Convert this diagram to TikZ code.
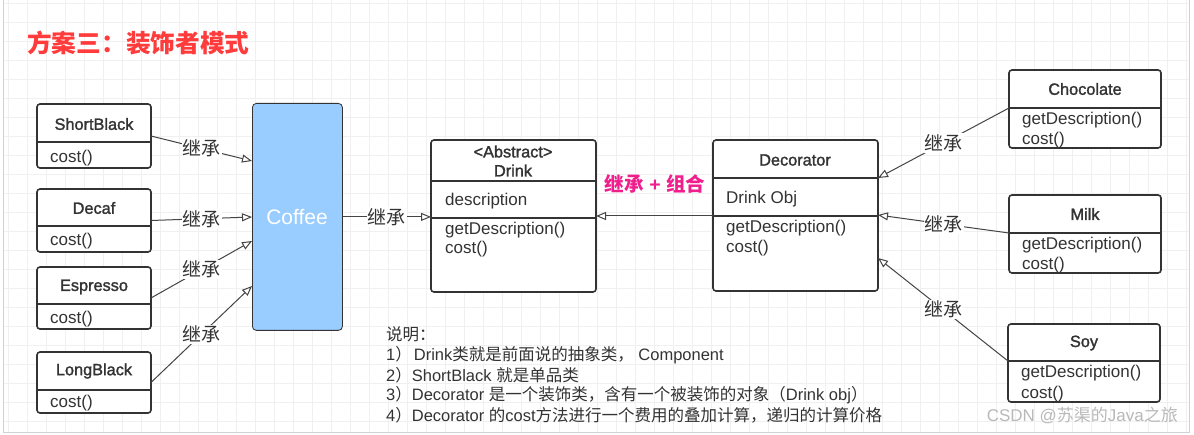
\documentclass[tikz,border=0pt]{standalone}
\usepackage{fontspec}
\setmainfont{Liberation Sans}
\newfontfamily\cjk{Noto Sans CJK SC}
\newfontfamily\medfont[FakeBold=1.6]{Liberation Sans}
\usetikzlibrary{arrows.meta,calc}
\definecolor{boxline}{HTML}{333333}
\definecolor{txt}{HTML}{333333}
\definecolor{arrowc}{HTML}{444444}
\definecolor{gridc}{HTML}{F0F0F0}
\definecolor{coffeeblue}{HTML}{99CCFF}
\definecolor{titlered}{HTML}{FF3B3B}
\definecolor{pinkc}{HTML}{F01E8C}
\tikzset{
  cls/.style={draw=boxline, line width=1.6pt, rounded corners=3pt, fill=white, inner sep=0pt, outer sep=0pt, anchor=north west},
  divline/.style={draw=boxline, line width=1.6pt},
  ttl/.style={font=\medfont\fontsize{16.3}{19}\selectfont, text=txt, inner sep=0pt, align=center},
  itm/.style={font=\fontsize{17}{20}\selectfont, anchor=west, inner sep=0pt, text=txt},
  inh/.style={draw=arrowc, line width=1pt, -{Triangle[fill=white, length=10pt, width=8pt]}},
  lbl/.style={fill=white, inner sep=1pt, font=\cjk\fontsize{19}{21}\selectfont, text=txt},
  note/.style={anchor=west, inner sep=0pt, text=txt, font=\fontsize{16.5}{19}\selectfont}
}
\begin{document}
\begin{tikzpicture}[x=1pt,y=-1pt]
\useasboundingbox (0,0) rectangle (1194,435);
% panel and grid
\fill[white] (0,0) rectangle (1194,435);
\begin{scope}
\clip (3,0) rectangle (1189,432);
\foreach \x in {8,27,...,1190} \draw[gridc, line width=0.8pt] (\x,0) -- (\x,432);
\foreach \y in {3,22,...,432} \draw[gridc, line width=0.8pt] (3,\y) -- (1189,\y);
\end{scope}
\draw[gray!35, line width=1pt] (3,0) -- (3,432) -- (1189,432) -- (1189,0);

% title
\node[anchor=west, text=titlered, font=\cjk\bfseries\fontsize{24.7}{27}\selectfont, inner sep=0pt] (title) at (27,43) {方案三：装饰者模式};

% left concrete classes
\node[cls, minimum width=114, minimum height=64] (sb) at (37,104) {};
\draw[divline] (37,142) -- (151,142);
\node[ttl] (sbt) at (94,124) {ShortBlack};
\node[itm] (sbc) at (50,158) {cost()};

\node[cls, minimum width=114, minimum height=63] (dc) at (37,189) {};
\draw[divline] (37,226) -- (151,226);
\node[ttl] (dct) at (94,208) {Decaf};
\node[itm] (dcc) at (50,241) {cost()};

\node[cls, minimum width=114, minimum height=62] (es) at (37,267) {};
\draw[divline] (37,304) -- (151,304);
\node[ttl] (est) at (94,287) {Espresso};
\node[itm] (esc) at (50,319) {cost()};

\node[cls, minimum width=114, minimum height=61] (lb) at (37,352) {};
\draw[divline] (37,390) -- (151,390);
\node[ttl] (lbt) at (94,371) {LongBlack};
\node[itm] (lbc) at (50,403) {cost()};

% Coffee
\node[draw=boxline, line width=0.8pt, fill=coffeeblue, rounded corners=4pt, minimum width=90, minimum height=227, anchor=north west, inner sep=0pt] (cf) at (252,103) {};
\node[text=white, font=\fontsize{21}{24}\selectfont, inner sep=0pt] (cft) at (297,217) {Coffee};

% Drink
\node[cls, minimum width=165, minimum height=152] (dr) at (431,140) {};
\draw[divline] (431,181) -- (596,181);
\draw[divline] (431,218) -- (596,218);
\node[ttl] (drt) at (513,161) {<Abstract>\\Drink};
\node[itm] (dra) at (445,201) {description};
\node[itm] (drm1) at (445,230) {getDescription()};
\node[itm] (drm2) at (445,249) {cost()};

% Decorator
\node[cls, minimum width=165, minimum height=151] (dec) at (713,140) {};
\draw[divline] (713,178) -- (878,178);
\draw[divline] (713,216) -- (878,216);
\node[ttl] (dect) at (795,160) {Decorator};
\node[itm] (deca) at (726,199) {Drink Obj};
\node[itm] (decm1) at (726,228) {getDescription()};
\node[itm] (decm2) at (726,248) {cost()};

% Chocolate
\node[cls, minimum width=152, minimum height=78] (ch) at (1009,70) {};
\draw[divline] (1009,108) -- (1161,108);
\node[ttl] (cht) at (1085,89) {Chocolate};
\node[itm] (chm1) at (1022,120) {getDescription()};
\node[itm] (chm2) at (1022,140) {cost()};

% Milk
\node[cls, minimum width=152, minimum height=78] (mk) at (1009,195) {};
\draw[divline] (1009,233) -- (1161,233);
\node[ttl] (mkt) at (1085,214) {Milk};
\node[itm] (mkm1) at (1022,245) {getDescription()};
\node[itm] (mkm2) at (1022,265) {cost()};

% Soy
\node[cls, minimum width=152, minimum height=78] (sy) at (1008,324) {};
\draw[divline] (1008,361) -- (1160,361);
\node[ttl] (syt) at (1084,343) {Soy};
\node[itm] (sym1) at (1021,373) {getDescription()};
\node[itm] (sym2) at (1021,394) {cost()};

% connectors left
\draw[inh] (sb.east) -- node[lbl] {继承} (cf.west |- 0,161);
\draw[inh] (dc.east) -- node[lbl] {继承} (cf.west |- 0,217);
\draw[inh] (es.east) -- node[lbl] {继承} (cf.west |- 0,241);
\draw[inh] (lb.east) -- node[lbl] {继承} (cf.west |- 0,286);
\draw[inh] (cf.east) -- node[lbl] {继承} (dr.west |- cf.east);

% Decorator to Drink
\draw[inh] (dec.west |- 0,216) -- (dr.east |- 0,216);
\node[inner sep=0pt, text=pinkc, font=\bfseries\fontsize{19.5}{22}\selectfont] (combo) at (655,184) {{\cjk 继承} + {\cjk 组合}};

% right connectors
\draw[inh] (ch.west |- 0,108) -- node[lbl] {继承} (dec.east |- 0,178);
\draw[inh] (mk.west |- 0,233) -- node[lbl] {继承} (dec.east |- 0,215);
\draw[inh] (sy.west |- 0,361) -- node[lbl] {继承} (dec.east |- 0,258);

% notes
\node[note] (n0) at (386,334) {{\cjk 说明：}};
\node[note] (n1) at (386,355) {1{\cjk ）}\hspace{2pt}Drink{\cjk 类就是前面说的抽象类，}\ Component};
\node[note] (n2) at (386,375) {2{\cjk ）}ShortBlack {\cjk 就是单品类}};
\node[note] (n3) at (386,395) {3{\cjk ）}Decorator {\cjk 是一个装饰类，含有一个被装饰的对象（}Drink obj{\cjk ）}};
\node[note] (n4) at (386,415) {4{\cjk ）}Decorator {\cjk 的}cost{\cjk 方法进行一个费用的叠加计算，递归的计算价格}};

% watermark
\node[anchor=east, inner sep=0pt, text=gray!55, font=\fontsize{17}{19}\selectfont] (wm) at (1178,415) {CSDN @{\cjk 苏渠的}Java{\cjk 之旅}};
\end{tikzpicture}
\end{document}
